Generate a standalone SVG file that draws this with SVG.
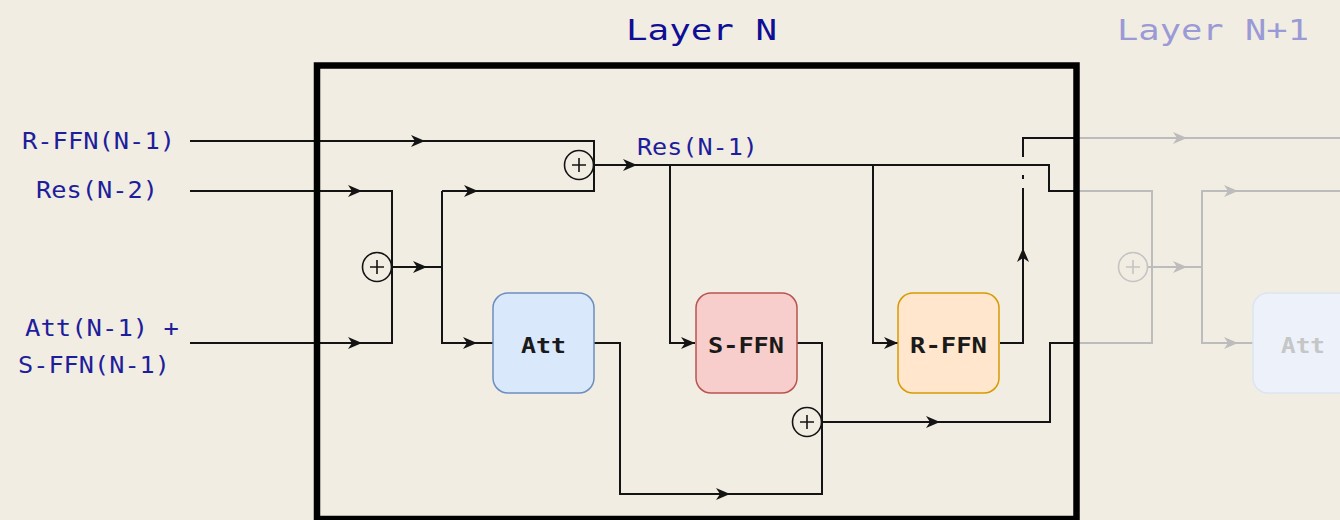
<svg xmlns="http://www.w3.org/2000/svg" xmlns:xlink="http://www.w3.org/1999/xlink" width="1340" height="520" viewBox="0 0 1340 520">
<style>
.bg{fill:#f2ede2}
.ln{fill:none;stroke:#141414;stroke-width:2}
.gl{fill:none;stroke:#bcbcbc;stroke-width:2}
.ah{fill:#141414}
.gah{fill:#bcbcbc}
.lbl{font-family:"DejaVu Sans Mono","Liberation Mono",monospace;font-size:23px;fill:#1e1e9c}
.ttl{font-family:"DejaVu Sans Mono","Liberation Mono",monospace;font-size:28px}
.nt{font-family:"DejaVu Sans Mono","Liberation Mono",monospace;font-size:22px;font-weight:bold;fill:#1a1a1a}
.plus{fill:none;stroke:#141414;stroke-width:1.6}
.gplus{fill:none;stroke:#c4c4c4;stroke-width:1.6}
</style>
<defs>
<path id="ah" d="M0,0 L-14,-6 L-10,0 L-14,6 Z"/>
</defs>
<rect class="bg" x="0" y="0" width="1340" height="520"/>

<g id="layer-labels">
<text class="ttl" x="626" y="40" textLength="151" lengthAdjust="spacingAndGlyphs" fill="#0e0e96">Layer N</text>
<text class="ttl" x="1117" y="40" textLength="192" lengthAdjust="spacingAndGlyphs" fill="#9a9ad6">Layer N+1</text>
</g>

<g id="input-labels">
<text class="lbl" x="22" y="149" textLength="153" lengthAdjust="spacingAndGlyphs">R-FFN(N-1)</text>
<text class="lbl" x="36" y="198" textLength="122" lengthAdjust="spacingAndGlyphs">Res(N-2)</text>
<text class="lbl" x="25" y="336" textLength="154" lengthAdjust="spacingAndGlyphs">Att(N-1) +</text>
<text class="lbl" x="18" y="373" textLength="152" lengthAdjust="spacingAndGlyphs">S-FFN(N-1)</text>
<text class="lbl" x="637" y="155" textLength="121" lengthAdjust="spacingAndGlyphs">Res(N-1)</text>
</g>

<g id="connectors">
<!-- gray next layer -->
<path class="gl" d="M1077,138 H1340"/>
<path class="gl" d="M1077,191 H1152 V343 H1077"/>
<path class="gl" d="M1148,267 H1202"/>
<path class="gl" d="M1340,191 H1202 V343 H1253"/>
<use href="#ah" class="gah" transform="translate(1187,138)"/>
<use href="#ah" class="gah" transform="translate(1187,267)"/>
<use href="#ah" class="gah" transform="translate(1238,191)"/>
<use href="#ah" class="gah" transform="translate(1238,343)"/>

<!-- layer N -->
<path class="ln" d="M190,141 H594 V191 H442"/>
<path class="ln" d="M190,191 H392 V343 H190"/>
<path class="ln" d="M392,267 H442"/>
<path class="ln" d="M442,191 V343 H493"/>
<path class="ln" d="M594,165 H1049 V191 H1077"/>
<path class="ln" d="M670,165 V343 H695"/>
<path class="ln" d="M873,165 V343 H898"/>
<path class="ln" d="M594,343 H620 V494 H822 V343 H797"/>
<path class="ln" d="M822,422 H1050 V343 H1077"/>
<path class="ln" d="M1000,343 H1023 V188 M1023,179 V175 M1023,157 V138 H1077"/>

<use href="#ah" class="ah" transform="translate(425,141)"/>
<use href="#ah" class="ah" transform="translate(362,191)"/>
<use href="#ah" class="ah" transform="translate(362,343)"/>
<use href="#ah" class="ah" transform="translate(427,267)"/>
<use href="#ah" class="ah" transform="translate(478,191)"/>
<use href="#ah" class="ah" transform="translate(477,343)"/>
<use href="#ah" class="ah" transform="translate(637,165)"/>
<use href="#ah" class="ah" transform="translate(695,343)"/>
<use href="#ah" class="ah" transform="translate(898,343)"/>
<use href="#ah" class="ah" transform="translate(1023,248) rotate(-90)"/>
<use href="#ah" class="ah" transform="translate(730,494)"/>
<use href="#ah" class="ah" transform="translate(940,422)"/>
</g>

<g id="layer-n-box">
<rect x="317" y="65.5" width="759.5" height="453.5" fill="none" stroke="#000" stroke-width="6.5"/>
</g>

<g id="plus-left">
<circle class="plus" cx="377" cy="267" r="14.5"/>
<path class="plus" d="M370,267 H384 M377,260 V274"/>
</g>
<g id="plus-top">
<circle class="plus" cx="579" cy="165" r="14.5"/>
<path class="plus" d="M572,165 H586 M579,158 V172"/>
</g>
<g id="plus-bottom">
<circle class="plus" cx="807" cy="422" r="14.5"/>
<path class="plus" d="M800,422 H814 M807,415 V429"/>
</g>
<g id="plus-next">
<circle class="gplus" cx="1133" cy="267" r="14.5"/>
<path class="gplus" d="M1126,267 H1140 M1133,260 V274"/>
</g>

<g id="att">
<rect x="493" y="293" width="101" height="100" rx="15" fill="#dae8fc" stroke="#6c8ebf" stroke-width="1.5"/>
<text class="nt" x="521" y="353" textLength="45" lengthAdjust="spacingAndGlyphs">Att</text>
</g>
<g id="s-ffn">
<rect x="696" y="293" width="101" height="100" rx="15" fill="#f8cecc" stroke="#b85450" stroke-width="1.5"/>
<text class="nt" x="708" y="353" textLength="76" lengthAdjust="spacingAndGlyphs">S-FFN</text>
</g>
<g id="r-ffn">
<rect x="898" y="293" width="101" height="100" rx="15" fill="#ffe6cc" stroke="#d79b00" stroke-width="1.5"/>
<text class="nt" x="910" y="353" textLength="77" lengthAdjust="spacingAndGlyphs">R-FFN</text>
</g>
<g id="att-next">
<rect x="1253" y="293" width="101" height="100" rx="15" fill="#edf2fa" stroke="#dbe5f2" stroke-width="1.5"/>
<text class="nt" x="1281" y="353" textLength="44" lengthAdjust="spacingAndGlyphs" style="fill:#c6c6c6">Att</text>
</g>
</svg>
